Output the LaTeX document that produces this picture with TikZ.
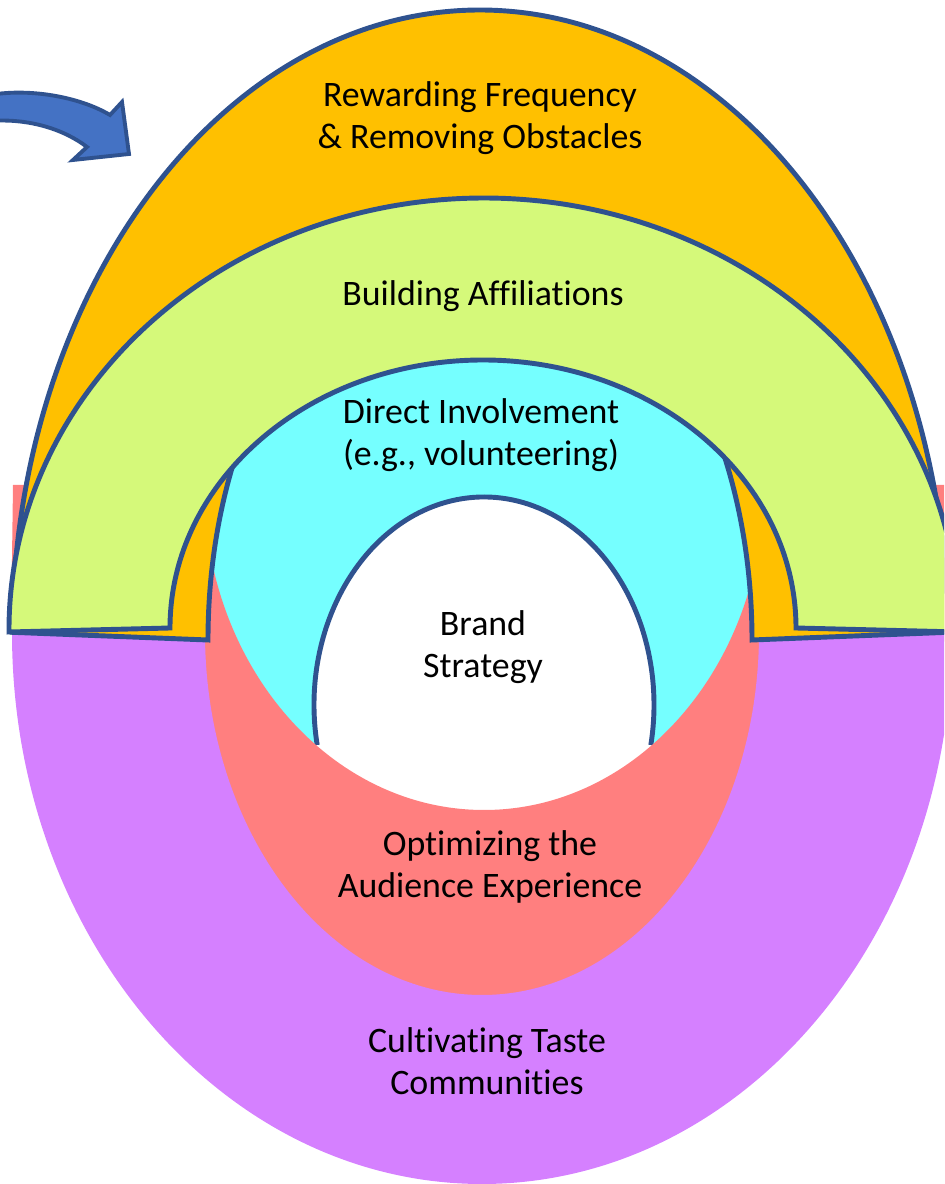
\documentclass[tikz,border=0pt]{standalone}
\usepackage{fontspec}
\setmainfont{Carlito}[Ligatures=NoCommon]
\definecolor{ringline}{HTML}{2F528F}
\definecolor{arrowfill}{HTML}{4472C4}
\definecolor{goldband}{HTML}{FFC000}
\definecolor{limeband}{HTML}{D5F97A}
\definecolor{cyanband}{HTML}{75FFFF}
\definecolor{salmonband}{HTML}{FF7F7F}
\definecolor{violetband}{HTML}{D580FF}
\begin{document}
\begin{tikzpicture}[x=0.02cm,y=0.02cm,
  ring/.style={draw=ringline,line width=2.8pt},
  lbl/.style={font=\fontsize{20.4}{23.8}\selectfont,align=center,text=black,inner sep=0pt}]
\useasboundingbox (0,0) rectangle (944,1184);
\clip (0,0) rectangle (944,1184);

% core region behind everything (direct involvement)
\fill[cyanband] (165,439) -- (165,556)
  arc[start angle=180,end angle=0,x radius=318,y radius=270] -- (801,439) -- cycle;

% brand strategy egg
\fill[white] (317.2,439) arc[start angle=191.1,end angle=-11.1,x radius=170,y radius=208] -- cycle;
\draw[ringline,line width=2.8pt] (317.2,439) arc[start angle=191.1,end angle=-11.1,x radius=170,y radius=208];

% audience experience band
\fill[salmonband] (13,699) -- (204,699)
  arc[start angle=180,end angle=360,x radius=280,y radius=325]
  -- (953,699) -- (953,551) -- (482,100) -- (11,551) -- cycle;

% taste communities band
\fill[violetband] (12,551)
  arc[start angle=180,end angle=360,x radius=470,y radius=551]
  -- (759,551)
  arc[start angle=0,end angle=-180,x radius=277,y radius=362] -- cycle;

% rewarding frequency arch
\filldraw[ring,fill=goldband] (12.03,551.7)
  arc[start angle=179.3,end angle=0.7,x radius=468,y radius=630]
  -- (752,544)
  arc[start angle=0,end angle=180,x radius=272,y radius=418] -- cycle;

% building affiliations arch
\filldraw[ring,fill=limeband] (9,552)
  arc[start angle=180.265,end angle=-0.265,x radius=475,y radius=432]
  -- (796,556)
  arc[start angle=0,end angle=180,x radius=313,y radius=268] -- cycle;

% curved block arrow
\filldraw[draw=ringline,fill=arrowfill,line width=2.2pt]
  (-10,1089) .. controls (30,1096) and (80,1087) .. (110,1069)
  -- (122,1082) -- (129,1030) -- (73,1024) -- (87,1037)
  .. controls (65,1054) and (30,1066) .. (-10,1063) -- cycle;

% labels
\node[lbl] (reward) at (480,1066) {Rewarding Frequency\\\& Removing Obstacles};
\node[lbl] (affil) at (483,888) {Building Affiliations};
\node[lbl] (direct) at (481,749) {Direct Involvement\\(e.g., volunteering)};
\node[lbl] (brand) at (483,537) {Brand\\Strategy};
\node[lbl] (optim) at (490,317) {Optimizing the\\Audience Experience};
\node[lbl] (cult) at (487,123) {Cultivating Taste\\Communities};
\end{tikzpicture}
\end{document}
